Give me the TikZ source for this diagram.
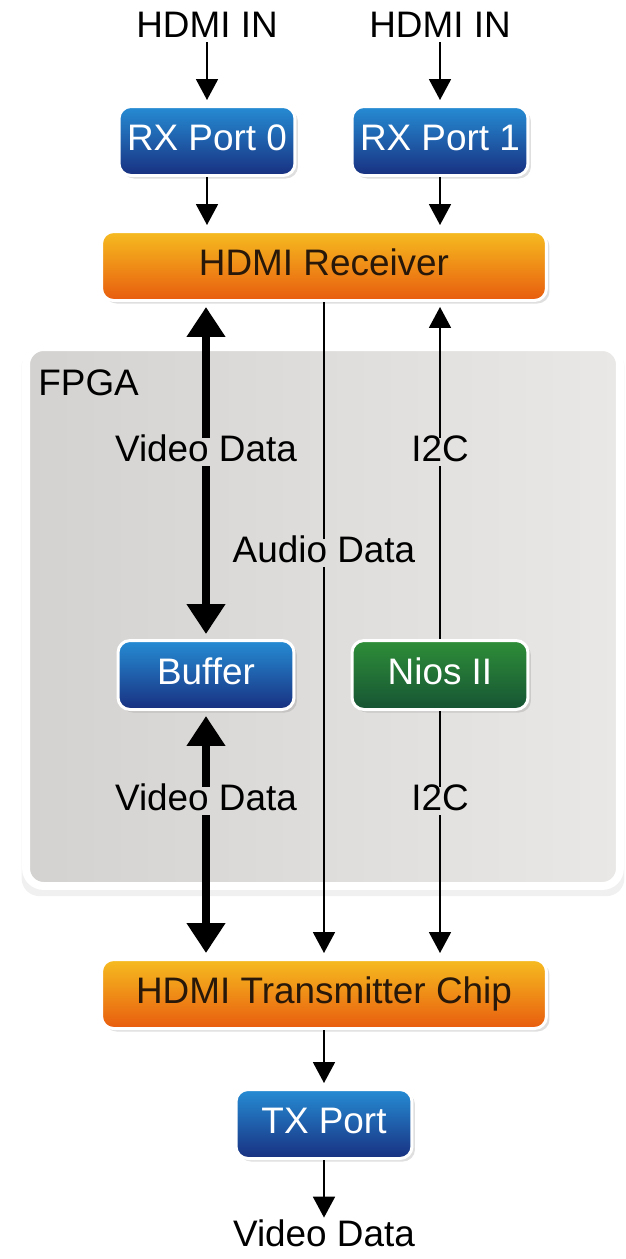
\documentclass[tikz,border=0pt]{standalone}
\usepackage{fontspec}
\setmainfont{Liberation Sans}
\usetikzlibrary{positioning, arrows.meta, shadows}

\definecolor{bluetop}{RGB}{38,140,212}
\definecolor{bluebot}{RGB}{24,48,128}
\definecolor{orangetop}{RGB}{246,188,32}
\definecolor{orangebot}{RGB}{232,92,14}
\definecolor{greentop}{RGB}{46,142,56}
\definecolor{greenbot}{RGB}{22,84,52}
\definecolor{fpgadark}{RGB}{212,210,208}
\definecolor{fpgalight}{RGB}{234,232,230}
\definecolor{chiptext}{RGB}{40,24,10}

\tikzset{
x=0.02cm, y=-0.02cm, % one unit is one pixel of the reference
every node/.style={font=\fontsize{21}{24}\selectfont},
box/.style={draw=white, line width=1.7pt, rounded corners=0.24cm, minimum width=3.52cm, minimum height=1.38cm, text height=1.1em, text depth=0pt, drop shadow={shadow xshift=0.06cm, shadow yshift=-0.06cm, opacity=0.25}}, % common look of the blocks
bluebox/.style={box, top color=bluetop, bottom color=bluebot, text=white},
greenbox/.style={box, top color=greentop, bottom color=greenbot, text=white},
orangebox/.style={box, top color=orangetop, bottom color=orangebot, text=chiptext, minimum width=8.9cm},
fpgabox/.style={draw=white, line width=4.5pt, rounded corners=0.35cm, left color=fpgadark, right color=fpgalight, minimum width=11.88cm, minimum height=10.78cm, drop shadow={shadow xshift=0cm, shadow yshift=-0.12cm, shadow scale=1.015, opacity=0.12}},
lbl/.style={inner sep=2.5pt, text height=1.1em, text depth=0pt}, % labels that break a line
thin/.style={line width=1.1pt, -{Triangle[width=0.44cm, length=0.42cm]}, shorten >=0.1cm},
fat/.style={line width=4.8pt, -{Triangle[width=0.74cm, length=0.6cm]}, shorten >=0.1cm},
plain/.style={line width=1.1pt},
}

\begin{document}
\begin{tikzpicture}
\useasboundingbox (0,0) rectangle (626,1259);

% FPGA area
\node[fpgabox] (fpga) at (323,616.5) {};
\node[anchor=west, inner sep=0pt] (fpganame) at (38,383) {FPGA};

% blocks
\node[lbl] (in0) at (207,28) {HDMI IN};
\node[lbl] (in1) at (440,28) {HDMI IN};
\node[bluebox] (rx0) at (207,141) {RX Port 0};
\node[bluebox] (rx1) at (440,141) {RX Port 1};
\node[orangebox] (recv) at (324,266) {HDMI Receiver};
\node[bluebox] (buffer) at (206,675) {Buffer};
\node[greenbox] (nios) at (440,675) {Nios II};
\node[orangebox] (tx) at (324,994) {HDMI Transmitter Chip};
\node[bluebox] (txport) at (324,1124) {TX Port};
\node[lbl] (vidout) at (324,1237) {Video Data};

% labels on the links
\node[lbl] (vid1) at (206,452) {Video Data};
\node[lbl] (i2c1) at (440,452) {I2C};
\node[lbl] (audio) at (324,553) {Audio Data};
\node[lbl] (vid2) at (206,801) {Video Data};
\node[lbl] (i2c2) at (440,801) {I2C};

% links
\draw[thin] (in0.south) -- (rx0.north);
\draw[thin] (in1.south) -- (rx1.north);
\draw[thin] (rx0.south) -- (rx0.south |- recv.north);
\draw[thin] (rx1.south) -- (rx1.south |- recv.north);

\draw[fat] (vid1.north) -- (vid1.north |- recv.south);
\draw[fat] (vid1.south) -- (buffer.north);
\draw[fat] (vid2.north) -- (buffer.south);
\draw[fat] (vid2.south) -- (vid2.south |- tx.north);

\draw[plain] (recv.south -| audio.north) -- (audio.north);
\draw[thin] (audio.south) -- (audio.south |- tx.north);

\draw[thin] (i2c1.north) -- (i2c1.north |- recv.south);
\draw[plain] (nios.north) -- (i2c1.south);
\draw[plain] (nios.south) -- (i2c2.north);
\draw[thin] (i2c2.south) -- (i2c2.south |- tx.north);

\draw[thin] (tx.south) -- (txport.north);
\draw[thin] (txport.south) -- (vidout.north);
\end{tikzpicture}
\end{document}
